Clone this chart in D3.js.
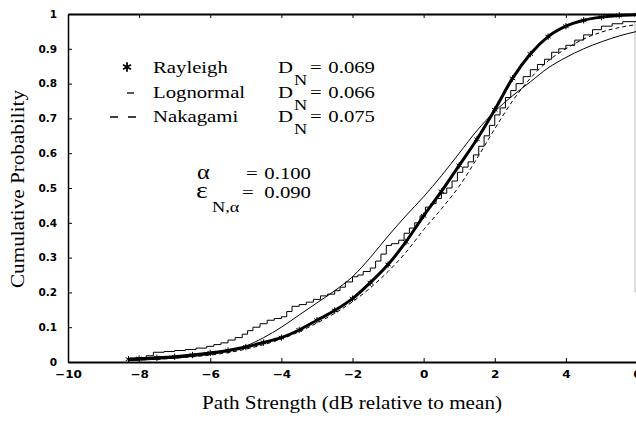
<!DOCTYPE html>
<html>
<head>
<meta charset="utf-8">
<script src="https://cdn.jsdelivr.net/npm/d3@7"></script>
<style>
  body { margin: 0; background: #fff; }
  svg { display: block; }
</style>
</head>
<body>
<div id="chart"></div>
<script>
let height = 425,
    width = 636,
    margin = ({ top: 14, right: -1, bottom: 63, left: 68 });

// values
const gridX = [-8.3, -8, -7.5, -7, -6.5, -6, -5.5, -5, -4.5, -4, -3.5, -3, -2.5, -2, -1.5,
               -1, -0.5, 0, 0.5, 1, 1.5, 2, 2.5, 3, 3.5, 4, 4.5, 5, 5.5, 6];
const rayleighY = [0.008, 0.010, 0.012, 0.015, 0.020, 0.026, 0.033, 0.043, 0.056, 0.070, 0.092, 0.120,
                   0.148, 0.182, 0.228, 0.280, 0.345, 0.420, 0.490, 0.565, 0.640, 0.725, 0.815, 0.885,
                   0.935, 0.965, 0.982, 0.991, 0.996, 0.998];
const lognormalY = [0.004, 0.005, 0.008, 0.011, 0.016, 0.022, 0.031, 0.046, 0.070, 0.100, 0.135, 0.170,
                    0.205, 0.245, 0.300, 0.362, 0.420, 0.475, 0.535, 0.600, 0.665, 0.720, 0.765, 0.805,
                    0.845, 0.875, 0.900, 0.920, 0.937, 0.950];
const nakagamiY = [0.005, 0.006, 0.008, 0.011, 0.015, 0.020, 0.027, 0.037, 0.050, 0.066, 0.087, 0.112,
                   0.140, 0.173, 0.213, 0.260, 0.315, 0.380, 0.440, 0.505, 0.585, 0.670, 0.750, 0.815,
                   0.865, 0.900, 0.928, 0.948, 0.961, 0.970];

// measured (empirical) distribution, drawn as a staircase
const empX = [-8.3, -8.0, -7.8, -7.6, -7.3, -7.0, -6.7, -6.4, -6.1, -5.9, -5.7, -5.5, -5.3, -5.1, -4.95,
              -4.8, -4.6, -4.4, -4.2, -4.0, -3.85, -3.7, -3.5, -3.3, -3.1, -2.9, -2.7, -2.5, -2.35, -2.2,
              -2.0, -1.85, -1.7, -1.5, -1.35, -1.2, -1.05, -0.9, -0.7, -0.55, -0.4, -0.25, -0.1, 0.05, 0.2,
              0.35, 0.5, 0.65, 0.8, 0.95, 1.1, 1.25, 1.4, 1.55, 1.7, 1.85, 2.0, 2.15, 2.3, 2.45,
              2.6, 2.8, 3.0, 3.2, 3.4, 3.6, 3.8, 4.0, 4.25, 4.5, 4.75, 5.0, 5.3, 5.6, 6.0];
const empY = [0.008, 0.012, 0.018, 0.028, 0.030, 0.033, 0.036, 0.040, 0.045, 0.050, 0.055, 0.063, 0.070, 0.080, 0.090,
              0.100, 0.110, 0.120, 0.125, 0.130, 0.145, 0.160, 0.165, 0.172, 0.180, 0.190, 0.195, 0.205, 0.215, 0.230,
              0.245, 0.250, 0.260, 0.270, 0.290, 0.310, 0.335, 0.340, 0.350, 0.370, 0.385, 0.400, 0.420, 0.445, 0.455,
              0.470, 0.485, 0.500, 0.520, 0.545, 0.560, 0.575, 0.595, 0.620, 0.650, 0.680, 0.710, 0.730, 0.760, 0.780,
              0.800, 0.820, 0.840, 0.855, 0.870, 0.890, 0.900, 0.910, 0.925, 0.940, 0.955, 0.965, 0.972, 0.978, 0.983];

const xTicks = [-10, -8, -6, -4, -2, 0, 2, 4, 6];
const yTicks = [0, 0.1, 0.2, 0.3, 0.4, 0.5, 0.6, 0.7, 0.8, 0.9, 1];

const legendNames = ["Rayleigh", "Lognormal", "Nakagami"];
const legendD = ["0.069", "0.066", "0.075"];
const alphaValue = "0.100";
const epsValue = "0.090";

const serif = "'Liberation Serif', 'Times New Roman', serif";
const tickFont = "'DejaVu Sans', sans-serif";

const svg = d3.select("#chart")
    .append("svg")
    .attr("width", width)
    .attr("height", height)
    .attr("viewBox", [0, 0, width, height]);

let x = d3.scaleLinear()
    .domain([-10, 6])
    .range([margin.left, width - margin.right]);

let y = d3.scaleLinear()
    .domain([0, 1])
    .range([height - margin.bottom, margin.top]);

// axes - small inward ticks, heavy little labels
svg.append("g")
    .attr("transform", `translate(0,${height - margin.bottom})`)
    .call(d3.axisBottom(x).tickValues(xTicks).tickSize(-4).tickSizeOuter(0).tickPadding(9))
    .call(g => g.select(".domain").attr("stroke-width", 1.8))
    .call(g => g.selectAll("text")
      .attr("font-family", tickFont).attr("font-weight", "bold").attr("font-size", 10.5)
      .attr("transform", "scale(1.15,1)"));

svg.append("g")
    .attr("transform", `translate(0,${margin.top})`)
    .call(d3.axisTop(x).tickValues(xTicks).tickSize(-4).tickSizeOuter(0).tickFormat(""))
    .call(g => g.select(".domain").attr("stroke-width", 2));

svg.append("g")
    .attr("transform", `translate(${margin.left},0)`)
    .call(d3.axisLeft(y).tickValues(yTicks).tickSize(-4).tickSizeOuter(0).tickPadding(11)
      .tickFormat(d3.format("~g")))
    .call(g => g.select(".domain").attr("stroke-width", 1.5))
    .call(g => g.selectAll("text")
      .attr("font-family", tickFont).attr("font-weight", "bold").attr("font-size", 10.5));

// faint right frame (cut by the page edge)
svg.append("line")
    .attr("x1", width - 1).attr("x2", width - 1)
    .attr("y1", y(0.98)).attr("y2", y(0.2))
    .attr("stroke", "#bbb");

const line = (ys) => d3.line()
    .x((d, i) => x(gridX[i]))
    .y(d => y(d))
    .curve(d3.curveMonotoneX)(ys);

// measured staircase
svg.append("path")
    .attr("d", d3.line().x(d => x(d[0])).y(d => y(d[1])).curve(d3.curveStepAfter)(d3.zip(empX, empY)))
    .attr("fill", "none").attr("stroke", "#000").attr("stroke-width", 1);

// lognormal
svg.append("path")
    .attr("d", line(lognormalY))
    .attr("fill", "none").attr("stroke", "#000").attr("stroke-width", 1);

// nakagami
svg.append("path")
    .attr("d", line(nakagamiY))
    .attr("fill", "none").attr("stroke", "#000").attr("stroke-width", 1)
    .attr("stroke-dasharray", "4,3");

// rayleigh - heavy line of asterisks
svg.append("path")
    .attr("d", line(rayleighY))
    .attr("fill", "none").attr("stroke", "#000").attr("stroke-width", 3);

svg.append("g")
    .selectAll("path")
    .data(d3.zip(gridX, rayleighY))
    .join("path")
    .attr("transform", d => `translate(${x(d[0])},${y(d[1])})`)
    .attr("d", d3.symbol(d3.symbolAsterisk, 28))
    .attr("fill", "none").attr("stroke", "#000").attr("stroke-width", 1);

// text helper: the scanned figure is stretched horizontally
function txt(px, py, s, size, anchor) {
  return svg.append("text")
    .attr("transform", `translate(${px},${py}) scale(1.22,1)`)
    .attr("font-family", serif)
    .attr("font-size", size)
    .attr("text-anchor", anchor || "start")
    .attr("fill", "#000")
    .text(s);
}

// legend
const rowY = [73, 98, 122];
legendNames.forEach((name, i) => {
  txt(153, rowY[i], name, 17);
  txt(278, rowY[i], "D", 17);
  txt(294, rowY[i] + 12, "N", 15);
  txt(310, rowY[i], "=", 17);
  txt(375, rowY[i], legendD[i], 17, "end");
});

svg.append("path")
    .attr("transform", `translate(127,${rowY[0] - 6})`)
    .attr("d", d3.symbol(d3.symbolAsterisk, 60))
    .attr("fill", "none").attr("stroke", "#000").attr("stroke-width", 1.8);

svg.append("line")
    .attr("x1", 127).attr("x2", 134)
    .attr("y1", rowY[1] - 5).attr("y2", rowY[1] - 5)
    .attr("stroke", "#000").attr("stroke-width", 1.3);

svg.append("line")
    .attr("x1", 110).attr("x2", 137)
    .attr("y1", rowY[2] - 5).attr("y2", rowY[2] - 5)
    .attr("stroke", "#000").attr("stroke-width", 1.3)
    .attr("stroke-dasharray", "8,10");

// significance level and critical value
txt(197, 179, "\u03b1", 20);
txt(246, 179, "=", 17);
txt(311, 179, alphaValue, 17, "end");
txt(196, 198, "\u03b5", 23);
txt(212, 212, "N,\u03b1", 15);
txt(242, 198, "=", 17);
txt(311, 198, epsValue, 17, "end");

// axis titles
svg.append("text")
    .attr("x", 352).attr("y", 409)
    .attr("text-anchor", "middle")
    .attr("font-family", serif).attr("font-size", 18)
    .attr("textLength", 300).attr("lengthAdjust", "spacingAndGlyphs")
    .text("Path Strength (dB relative to mean)");

svg.append("text")
    .attr("transform", `translate(24,189) rotate(-90)`)
    .attr("text-anchor", "middle")
    .attr("font-family", serif).attr("font-size", 19)
    .attr("textLength", 198).attr("lengthAdjust", "spacingAndGlyphs")
    .text("Cumulative Probability");
</script>
</body>
</html>
